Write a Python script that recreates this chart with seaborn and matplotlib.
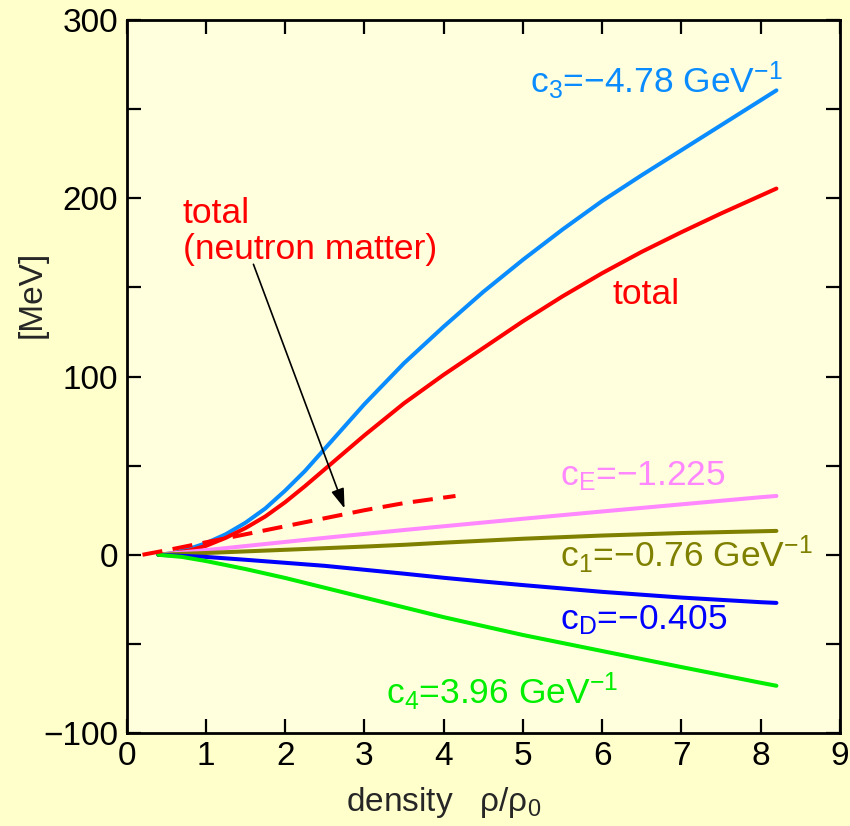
import matplotlib
matplotlib.use("Agg")
import matplotlib.pyplot as plt
import seaborn as sns

# density rho/rho0 and contributions [MeV]
x_main = [0.4, 0.6, 0.8, 1.0, 1.25, 1.5, 1.75, 2.0, 2.25, 2.5, 2.75, 3.0,
          3.25, 3.5, 4.0, 4.5, 5.0, 5.5, 6.0, 6.5, 7.0, 7.5, 8.0, 8.2]
c3_vals = [0, 1, 3.5, 6.5, 11.5, 18, 26, 36, 47, 59.5, 72, 84.5,
           96, 107.5, 128, 147.5, 165.5, 182.5, 198.5, 213, 227, 241, 255, 260.6]
total_vals = [0, 0.8, 2.5, 5, 9.5, 15, 21.5, 29.5, 38.5, 48, 57.5, 67,
              76, 85, 101, 116, 131, 145, 158, 170, 181, 191.5, 201.5, 205.5]

x_lin = [0.4, 1.0, 1.5, 2.0, 2.5, 3.0, 3.5, 4.0, 4.5, 5.0, 6.0, 7.0, 8.0, 8.2]
cE_vals = [0, 2.6, 4.9, 7.2, 9.5, 11.7, 13.9, 16, 18.1, 20.2, 24.3, 28.3, 32.3, 33]
c1_vals = [0, 1.0, 1.9, 2.8, 3.7, 4.6, 5.6, 6.8, 7.9, 9.0, 10.8, 12.2, 13.2, 13.4]
cD_vals = [0, -1.2, -2.8, -4.5, -6.2, -8.4, -10.6, -12.9, -15, -17, -20.8, -24, -26.6, -27]

x_c4 = [0.4, 0.7, 1.0, 1.5, 2.0, 2.5, 3.0, 3.5, 4.0, 4.5, 5.0, 5.5, 6.0,
        6.5, 7.0, 7.5, 8.0, 8.2]
c4_vals = [0, -1.2, -3.5, -8, -13, -18.5, -24, -29.5, -35, -40, -45, -49.5, -54,
           -58.5, -63, -67.4, -71.8, -73.5]

x_nm = [0.2, 0.5, 1.0, 1.5, 2.0, 2.5, 3.0, 3.5, 4.15]
nm_vals = [0, 2.5, 7, 11.5, 16, 20.5, 25, 29, 33]

sns.set_theme(style="ticks")
plt.rcParams['font.family'] = ['Liberation Sans', 'DejaVu Sans']
plt.rcParams['mathtext.fontset'] = 'custom'
plt.rcParams['mathtext.rm'] = 'Liberation Sans'
plt.rcParams['mathtext.default'] = 'regular'

BG_OUT = '#FFFFCC'
BG_IN = '#FFFFDE'
LIGHTBLUE = '#0A8CFF'
PINK = '#FF88FF'
OLIVE = '#808000'
BLUE = '#0000FF'
GREEN = '#00EE00'
RED = '#FF0000'
FS = 24      # tick / axis labels
FS_T = 25.5  # curve labels

fig = plt.figure(figsize=(8.5, 8.26), dpi=100, facecolor=BG_OUT)
ax = fig.add_axes([0.149, 0.1126, 0.839, 0.863])
ax.set_facecolor(BG_IN)

lw = 2.9
sns.lineplot(x=x_main, y=c3_vals, color=LIGHTBLUE, lw=lw, ax=ax)
sns.lineplot(x=x_main, y=total_vals, color=RED, lw=lw, ax=ax)
sns.lineplot(x=x_lin, y=cE_vals, color=PINK, lw=lw, ax=ax)
sns.lineplot(x=x_lin, y=c1_vals, color=OLIVE, lw=lw, ax=ax)
sns.lineplot(x=x_lin, y=cD_vals, color=BLUE, lw=lw, ax=ax)
sns.lineplot(x=x_c4, y=c4_vals, color=GREEN, lw=lw, ax=ax)
sns.lineplot(x=x_nm, y=nm_vals, color=RED, lw=lw, ax=ax)
ax.lines[-1].set_dashes([5, 2.6])

ax.set_xlim(0, 9)
ax.set_ylim(-100, 300)
ax.set_xticks(range(0, 10))
ax.set_yticks([-100, 0, 100, 200, 300])
ax.set_yticks([-50, 50, 150, 250], minor=True)
ax.tick_params(which='both', direction='in', length=10, width=1.6,
               top=True, right=True, labelsize=FS, colors='black', pad=6)
for s in ax.spines.values():
    s.set_linewidth(2.0)
    s.set_color('black')

ax.set_xlabel(r'density   $\rho/\rho_0$', fontsize=FS)
ax.set_ylabel('[MeV]', fontsize=FS)
ax.xaxis.set_label_coords(0.445, -0.073)
ax.yaxis.set_label_coords(-0.111, 0.615)

# curve labels
ax.text(5.09, 259, r'c$_3$=−4.78 GeV$^{-1}$', color=LIGHTBLUE, fontsize=FS_T, va='baseline')
ax.text(6.13, 141, 'total', color=RED, fontsize=FS_T, va='baseline')
ax.text(5.47, 39, r'c$_E$=−1.225', color=PINK, fontsize=FS_T, va='baseline')
ax.text(5.47, -7, r'c$_1$=−0.76 GeV$^{-1}$', color=OLIVE, fontsize=FS_T, va='baseline')
ax.text(5.47, -42, r'c$_D$=−0.405', color=BLUE, fontsize=FS_T, va='baseline')
ax.text(3.27, -84, r'c$_4$=3.96 GeV$^{-1}$', color=GREEN, fontsize=FS_T, va='baseline')
ax.text(0.71, 186, 'total', color=RED, fontsize=FS_T, va='baseline')
ax.text(0.71, 166, '(neutron matter)', color=RED, fontsize=FS_T, va='baseline')

ax.annotate('', xy=(2.75, 26), xytext=(1.6, 163),
            arrowprops=dict(arrowstyle='-|>,head_length=0.6,head_width=0.2',
                            color='black', lw=1.2,
                            mutation_scale=20, shrinkA=0, shrinkB=0))

fig.savefig('out.png', dpi=100, facecolor=BG_OUT)
